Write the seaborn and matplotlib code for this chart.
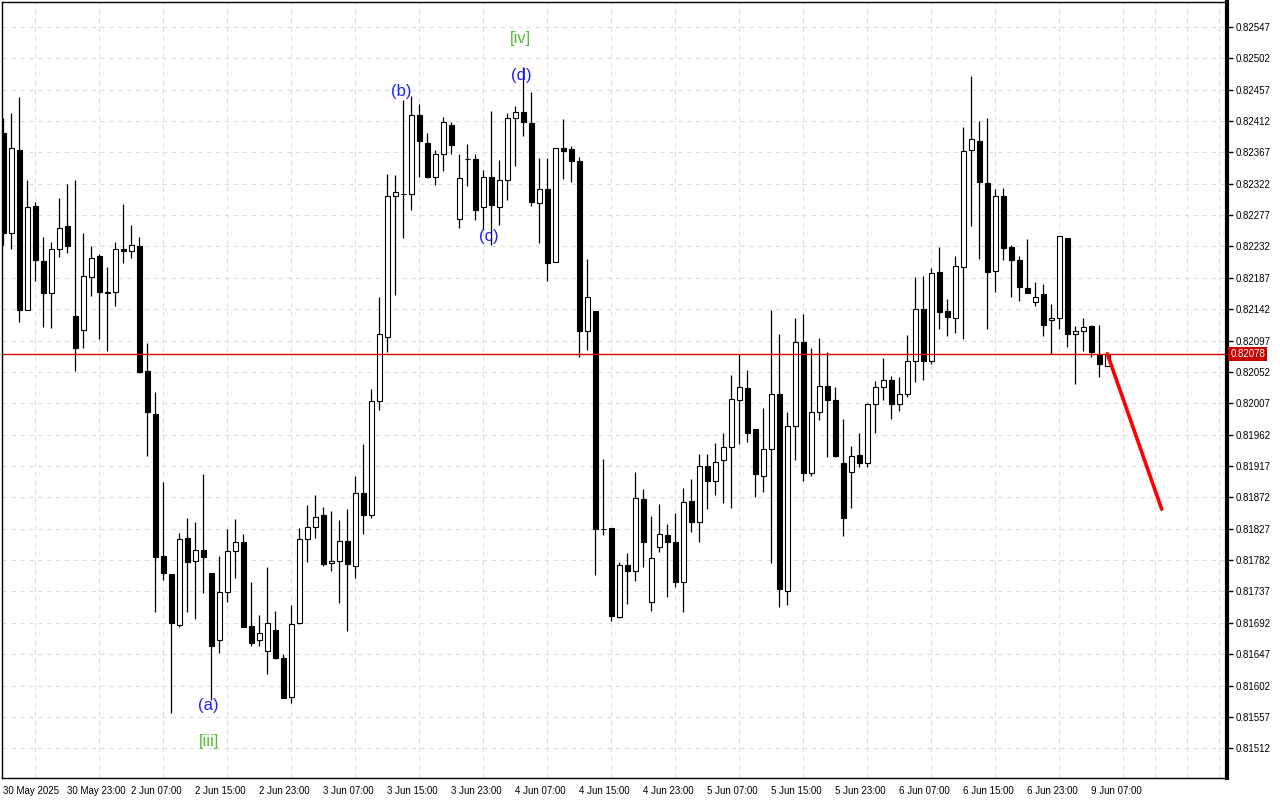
import numpy as np
import pandas as pd
import matplotlib
matplotlib.use("Agg")
import matplotlib.pyplot as plt
import seaborn as sns

# --- Data: hourly OHLC, 30 May 15:00 -> 9 Jun 09:00 ---
opens = [
    0.82395, 0.82251, 0.82370, 0.82141, 0.82290, 0.82211, 0.82165, 0.82229, 0.82261, 0.82132,
    0.82112, 0.82188, 0.82218, 0.82167, 0.82167, 0.82229, 0.82225, 0.82233, 0.82053, 0.81992,
    0.81788, 0.81762, 0.81689, 0.81813, 0.81780, 0.81797, 0.81764, 0.81667, 0.81736, 0.81795,
    0.81808, 0.81688, 0.81667, 0.81652, 0.81682, 0.81641, 0.81585, 0.81691, 0.81812, 0.81829,
    0.81846, 0.81778, 0.81780, 0.81810, 0.81774, 0.81878, 0.81846, 0.82010, 0.82102, 0.82304,
    0.82307, 0.82308, 0.82420, 0.82381, 0.82332, 0.82364, 0.82406, 0.82272, 0.82357, 0.82357,
    0.82288, 0.82332, 0.82289, 0.82328, 0.82416, 0.82425, 0.82409, 0.82295, 0.82314, 0.82210,
    0.82374, 0.82372, 0.82355, 0.82110, 0.82139, 0.81827, 0.81828, 0.81701, 0.81775, 0.81767,
    0.81869, 0.81722, 0.81801, 0.81818, 0.81808, 0.81750, 0.81867, 0.81837, 0.81917, 0.81896,
    0.81925, 0.81944, 0.82012, 0.82029, 0.81970, 0.81903, 0.81942, 0.82020, 0.81738, 0.81975,
    0.82095, 0.81907, 0.81995, 0.82032, 0.82012, 0.81922, 0.81909, 0.81933, 0.81922, 0.82006,
    0.82031, 0.82041, 0.82006, 0.82021, 0.82067, 0.82142, 0.82067, 0.82195, 0.82139, 0.82130,
    0.82203, 0.82370, 0.82383, 0.82323, 0.82197, 0.82304, 0.82231, 0.82213, 0.82173, 0.82152,
    0.82164, 0.82126, 0.82129, 0.82244, 0.82107, 0.82110, 0.82118, 0.82076, 0.82061,
]
highs = [
    0.82416, 0.82423, 0.82447, 0.82327, 0.82296, 0.82246, 0.82238, 0.82302, 0.82322, 0.82327,
    0.82252, 0.82232, 0.82221, 0.82202, 0.82238, 0.82293, 0.82263, 0.82246, 0.82093, 0.82023,
    0.81894, 0.81762, 0.81821, 0.81843, 0.81836, 0.81906, 0.81764, 0.81788, 0.81827, 0.81841,
    0.81820, 0.81750, 0.81703, 0.81772, 0.81709, 0.81647, 0.81718, 0.81828, 0.81861, 0.81875,
    0.81858, 0.81852, 0.81840, 0.81856, 0.81903, 0.81949, 0.82028, 0.82160, 0.82336, 0.82334,
    0.82442, 0.82448, 0.82436, 0.82395, 0.82370, 0.82418, 0.82411, 0.82364, 0.82379, 0.82364,
    0.82342, 0.82426, 0.82356, 0.82423, 0.82434, 0.82490, 0.82453, 0.82359, 0.82359, 0.82374,
    0.82415, 0.82376, 0.82360, 0.82214, 0.82139, 0.81927, 0.81828, 0.81779, 0.81792, 0.81908,
    0.81884, 0.81845, 0.81862, 0.81834, 0.81850, 0.81885, 0.81899, 0.81934, 0.81934, 0.81950,
    0.81965, 0.82048, 0.82078, 0.82055, 0.81970, 0.82000, 0.82141, 0.82107, 0.81995, 0.82130,
    0.82135, 0.82087, 0.82100, 0.82080, 0.82030, 0.81984, 0.81946, 0.81965, 0.82008, 0.82039,
    0.82072, 0.82046, 0.82044, 0.82105, 0.82188, 0.82190, 0.82201, 0.82231, 0.82157, 0.82218,
    0.82403, 0.82477, 0.82412, 0.82416, 0.82314, 0.82316, 0.82234, 0.82218, 0.82243, 0.82181,
    0.82178, 0.82150, 0.82247, 0.82244, 0.82118, 0.82130, 0.82120, 0.82119, 0.82080,
]
lows = [
    0.82234, 0.82229, 0.82123, 0.82141, 0.82182, 0.82117, 0.82115, 0.82217, 0.82223, 0.82054,
    0.82087, 0.82161, 0.82099, 0.82082, 0.82146, 0.82209, 0.82216, 0.82051, 0.81931, 0.81708,
    0.81753, 0.81562, 0.81686, 0.81708, 0.81697, 0.81735, 0.81581, 0.81649, 0.81722, 0.81756,
    0.81686, 0.81658, 0.81658, 0.81618, 0.81640, 0.81584, 0.81577, 0.81690, 0.81779, 0.81814,
    0.81774, 0.81766, 0.81721, 0.81680, 0.81757, 0.81820, 0.81842, 0.81998, 0.82080, 0.82163,
    0.82244, 0.82284, 0.82331, 0.82330, 0.82320, 0.82340, 0.82364, 0.82259, 0.82319, 0.82270,
    0.82256, 0.82234, 0.82263, 0.82298, 0.82347, 0.82390, 0.82290, 0.82237, 0.82183, 0.82210,
    0.82329, 0.82324, 0.82073, 0.82083, 0.81761, 0.81818, 0.81695, 0.81699, 0.81719, 0.81752,
    0.81772, 0.81709, 0.81794, 0.81729, 0.81744, 0.81708, 0.81823, 0.81808, 0.81856, 0.81875,
    0.81864, 0.81857, 0.81949, 0.81952, 0.81873, 0.81880, 0.81778, 0.81714, 0.81717, 0.81925,
    0.81896, 0.81903, 0.81983, 0.81930, 0.81930, 0.81816, 0.81857, 0.81916, 0.81915, 0.81965,
    0.82011, 0.81984, 0.81996, 0.82016, 0.82037, 0.82040, 0.82063, 0.82113, 0.82104, 0.82108,
    0.82099, 0.82262, 0.82214, 0.82113, 0.82166, 0.82213, 0.82159, 0.82154, 0.82165, 0.82146,
    0.82103, 0.82077, 0.82113, 0.82088, 0.82034, 0.82082, 0.82074, 0.82044, 0.82061,
]
closes = [
    0.82251, 0.82373, 0.82141, 0.82289, 0.82213, 0.82165, 0.82228, 0.82258, 0.82233, 0.82086,
    0.82189, 0.82215, 0.82166, 0.82165, 0.82229, 0.82226, 0.82234, 0.82052, 0.81995, 0.81787,
    0.81763, 0.81691, 0.81812, 0.81779, 0.81797, 0.81786, 0.81659, 0.81736, 0.81795, 0.81808,
    0.81686, 0.81663, 0.81678, 0.81691, 0.81642, 0.81584, 0.81690, 0.81812, 0.81829, 0.81844,
    0.81777, 0.81780, 0.81810, 0.81776, 0.81878, 0.81846, 0.82010, 0.82106, 0.82304, 0.82310,
    0.82308, 0.82421, 0.82383, 0.82332, 0.82364, 0.82410, 0.82377, 0.82330, 0.82357, 0.82284,
    0.82332, 0.82291, 0.82328, 0.82416, 0.82425, 0.82410, 0.82296, 0.82314, 0.82209, 0.82374,
    0.82369, 0.82354, 0.82110, 0.82159, 0.81826, 0.81827, 0.81702, 0.81775, 0.81767, 0.81871,
    0.81808, 0.81785, 0.81820, 0.81808, 0.81751, 0.81865, 0.81837, 0.81917, 0.81896, 0.81923,
    0.81944, 0.82013, 0.82031, 0.81965, 0.81905, 0.81942, 0.82021, 0.81740, 0.81975, 0.82095,
    0.81907, 0.81995, 0.82032, 0.82011, 0.81931, 0.81843, 0.81932, 0.81922, 0.82006, 0.82031,
    0.82041, 0.82006, 0.82021, 0.82067, 0.82142, 0.82067, 0.82194, 0.82138, 0.82131, 0.82204,
    0.82369, 0.82386, 0.82324, 0.82196, 0.82304, 0.82230, 0.82212, 0.82174, 0.82165, 0.82159,
    0.82120, 0.82129, 0.82247, 0.82107, 0.82110, 0.82117, 0.82080, 0.82064, 0.82078,
]

time_labels = [
    "30 May 2025", "30 May 23:00", "2 Jun 07:00", "2 Jun 15:00", "2 Jun 23:00",
    "3 Jun 07:00", "3 Jun 15:00", "3 Jun 23:00", "4 Jun 07:00", "4 Jun 15:00",
    "4 Jun 23:00", "5 Jun 07:00", "5 Jun 15:00", "5 Jun 23:00", "6 Jun 07:00",
    "6 Jun 15:00", "6 Jun 23:00", "9 Jun 07:00",
]

last_price = 0.82078
forecast_x = [138, 144.8]
forecast_y = [0.82078, 0.81855]

wave_text = ["[iv]", "(d)", "(b)", "(c)", "(a)", "[iii]"]
wave_x = [64.7, 64.7, 49.7, 60.7, 25.6, 25.7]
wave_y = [0.82530, 0.82477, 0.82454, 0.82246, 0.81574, 0.81521]
wave_color = ["#4fbf2f", "#1f1fff", "#1f1fff", "#1f1fff", "#1f1fff", "#4fbf2f"]

# --- Style ---
sns.set_style("white")
plt.rcParams["font.family"] = ["Liberation Sans", "DejaVu Sans"]

df = pd.DataFrame({"open": opens, "high": highs, "low": lows, "close": closes})
df["bar"] = np.arange(len(df))
up = df[df["close"] >= df["open"]]
dn = df[df["close"] < df["open"]]

fig = plt.figure(figsize=(12.8, 8), dpi=100)
ax = fig.add_axes([2 / 1280, 22 / 800, 1225 / 1280, 776 / 800])

# wicks then bodies
ax.vlines(df["bar"], df["low"], df["high"], color="black", linewidth=0.9, zorder=2)
ax.bar(up["bar"], up["close"] - up["open"], bottom=up["open"], width=0.62,
       facecolor="white", edgecolor="black", linewidth=0.8, zorder=3)
ax.bar(dn["bar"], dn["open"] - dn["close"], bottom=dn["close"], width=0.62,
       facecolor="black", edgecolor="black", linewidth=0.8, zorder=3)

# current price line + forecast
ax.axhline(last_price, color="#d00000", linewidth=1, zorder=4)
sns.lineplot(x=forecast_x, y=forecast_y, ax=ax, color="#ff0000", linewidth=2.6, zorder=5)

for t, x, y, c in zip(wave_text, wave_x, wave_y, wave_color):
    ax.text(x, y, t, color=c, fontsize=12, ha="center", va="center", zorder=6)

# axes
ax.set_xlim(-0.16, 152.96)
ax.set_ylim(0.814693, 0.825828)

ax.set_xticks(np.arange(0, 137, 8))
ax.set_xticklabels(time_labels)
for lbl in ax.get_xticklabels():
    lbl.set_horizontalalignment("left")
ax.set_xticks(np.arange(0, 153, 4), minor=True)

yt = np.round(0.81512 + 0.00045 * np.arange(24), 5)
ax.set_yticks(yt)
ax.set_yticklabels([f"{v:.5f}" for v in yt])
ax.yaxis.tick_right()

ax.tick_params(axis="x", which="major", direction="out", length=4, width=1,
               labelsize=7, pad=2, colors="black")
ax.tick_params(axis="x", which="minor", length=0)
ax.tick_params(axis="y", which="major", direction="out", length=4, width=1,
               labelsize=7, pad=2, colors="black", right=True, left=False)

ax.grid(which="minor", axis="x", color="#dcdcdc", linestyle=(0, (4, 4)), linewidth=0.8)
ax.grid(which="major", axis="y", color="#dcdcdc", linestyle=(0, (4, 4)), linewidth=0.8)
ax.set_axisbelow(True)

for s in ["left", "bottom", "top"]:
    ax.spines[s].set_color("black")
    ax.spines[s].set_linewidth(1)
ax.spines["right"].set_color("black")
ax.spines["right"].set_linewidth(3)

ax.text(1.0028, last_price, "0.82078", transform=ax.get_yaxis_transform(),
        ha="left", va="center", color="white", fontsize=7,
        bbox=dict(boxstyle="square,pad=0.2", facecolor="#c80000", edgecolor="none"))

ax.set_xlabel("")
ax.set_ylabel("")

fig.savefig("out.png", dpi=100)
